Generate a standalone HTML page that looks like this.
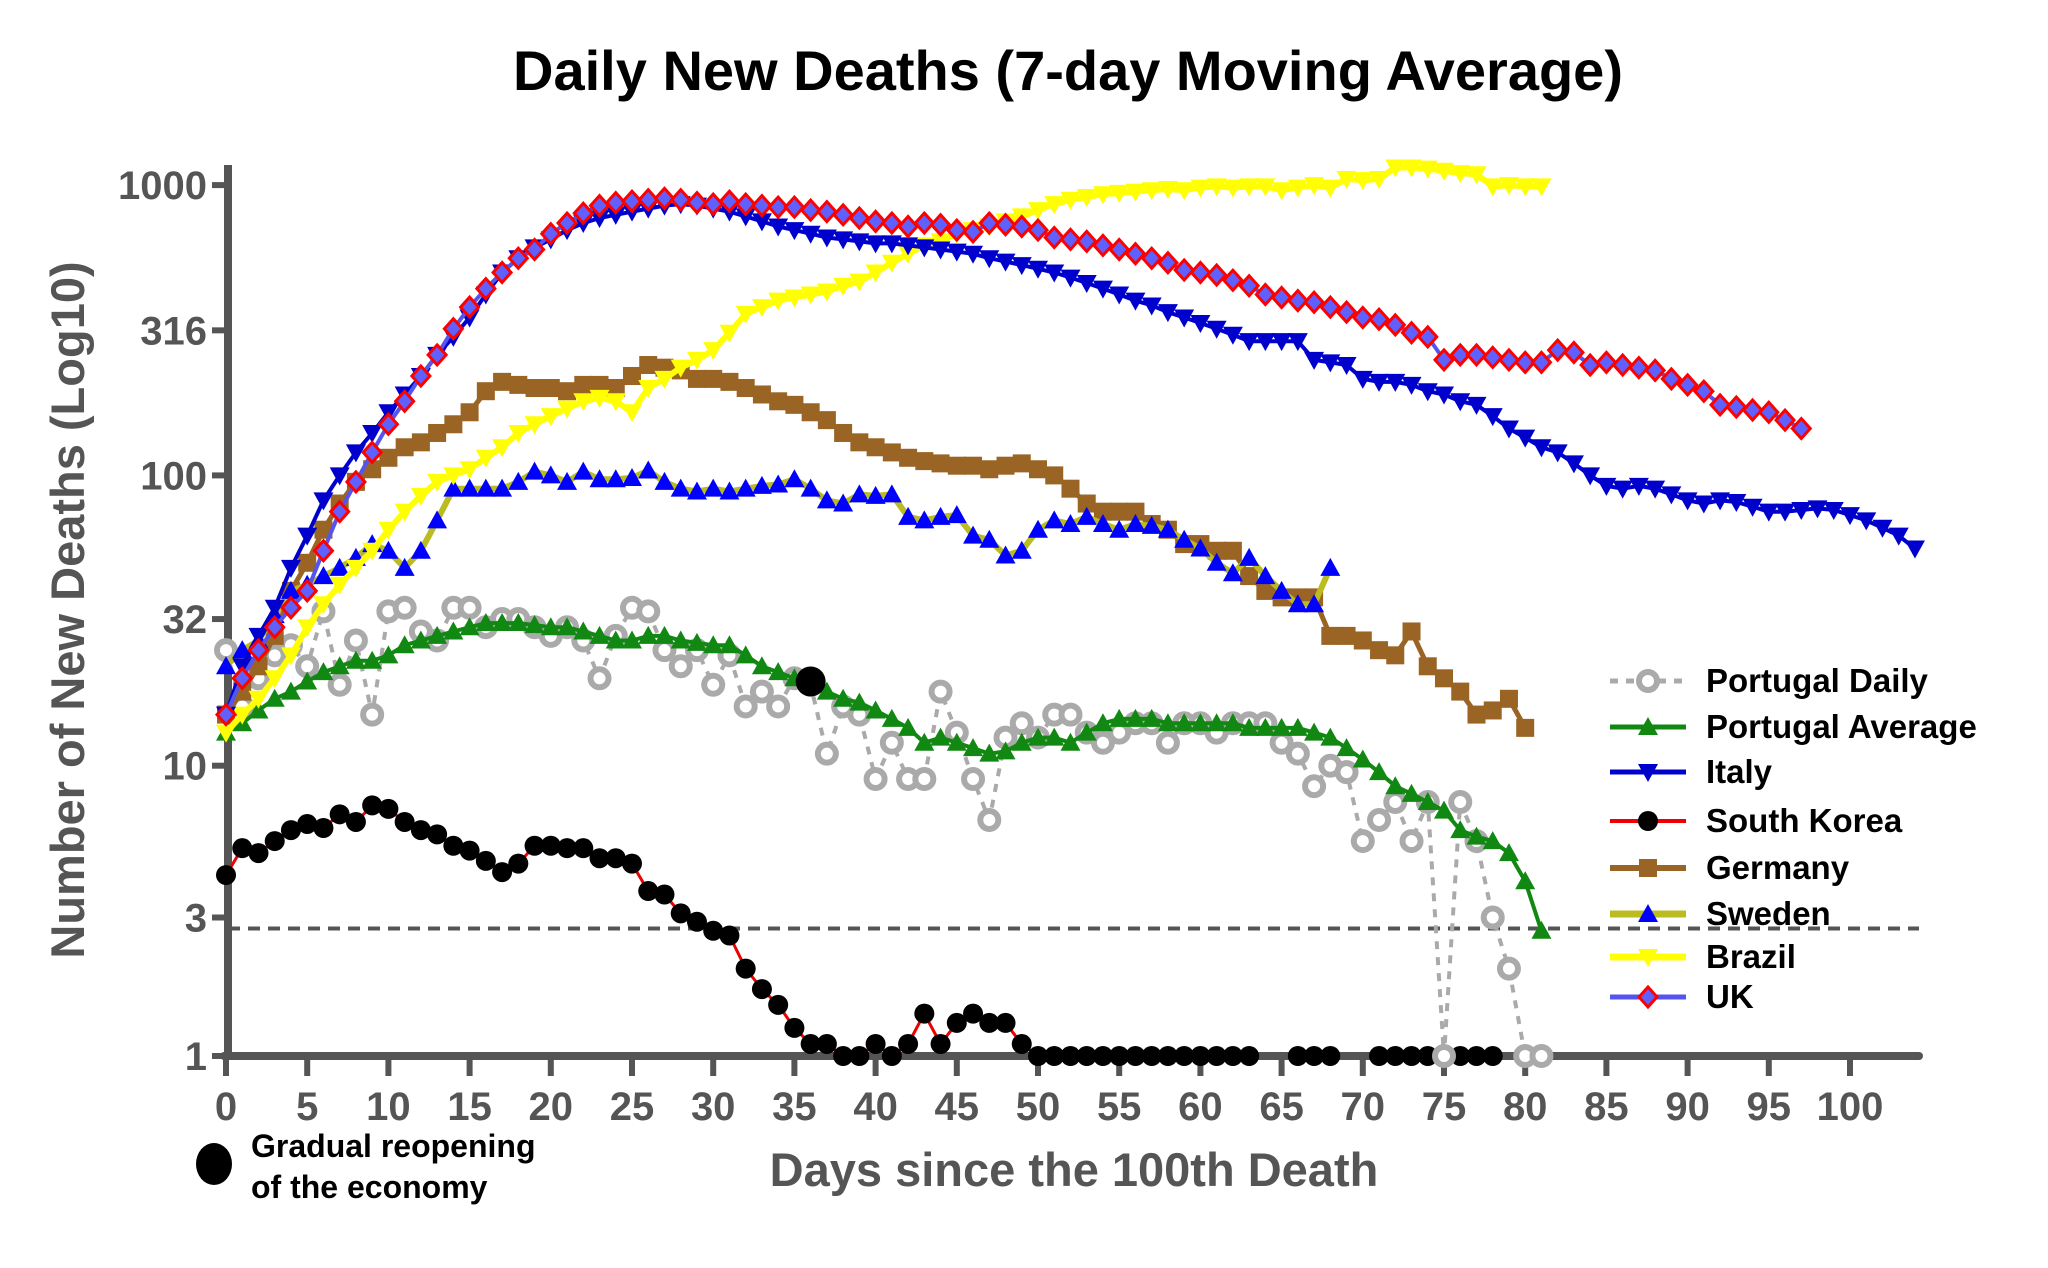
<!DOCTYPE html>
<html><head><meta charset="utf-8"><style>
html,body{margin:0;padding:0;background:#fff;}
svg{display:block;font-family:"Liberation Sans",Arial,sans-serif;}
</style></head><body>
<svg id="chart" width="2048" height="1268" viewBox="0 0 2048 1268" xmlns="http://www.w3.org/2000/svg">
<text x="1068" y="90" text-anchor="middle" font-size="56" font-weight="bold" fill="#000">Daily New Deaths (7-day Moving Average)</text>
<text transform="translate(84,610) rotate(-90)" text-anchor="middle" font-size="47" font-weight="bold" fill="#555">Number of New Deaths (Log10)</text>
<text x="1074" y="1186" text-anchor="middle" font-size="47" font-weight="bold" fill="#555">Days since the 100th Death</text>
<g id="axes"></g>
<g id="series"></g>
<g id="legend"></g>
<g>
<ellipse cx="214" cy="1164" rx="18" ry="21" fill="#000"/>
<text x="251" y="1157" font-size="32" font-weight="bold" fill="#000">Gradual reopening</text>
<text x="251" y="1198" font-size="32" font-weight="bold" fill="#000">of the economy</text>
</g>
</svg>
<script>
const yTicks = [1, 3, 10, 32, 100, 316, 1000];
const yTickLabels = ["1", "3", "10", "32", "100", "316", "1000"];
const xTicks = [0,5,10,15,20,25,30,35,40,45,50,55,60,65,70,75,80,85,90,95,100];
const thresholdValue = 2.75;
const reopeningDay = 36;
const reopeningValue = 19.5;
const italy = [15,22,28,35,48,62,82,100,120,140,165,190,220,260,300,350,420,500,560,610,650,700,740,770,790,810,830,850,860,850,830,810,780,750,720,700,680,660,650,640,630,630,620,610,600,590,580,560,545,530,515,500,480,460,440,420,400,385,365,350,335,320,305,290,290,290,290,250,245,240,215,210,210,205,195,190,180,175,160,145,135,125,120,110,100,92,90,92,90,86,82,80,82,81,78,75,75,76,77,76,73,70,66,62,56];
const uk = [15,20,25,30,35,40,55,75,95,120,150,180,220,260,320,380,440,500,560,600,680,740,800,850,870,880,890,900,890,870,860,880,860,850,840,840,820,810,790,770,750,740,720,740,730,700,690,740,730,720,700,660,650,640,620,600,580,560,540,510,500,490,470,450,420,410,400,395,380,365,350,345,330,310,300,250,260,260,255,250,245,245,270,265,240,245,240,235,230,215,205,195,175,172,168,165,155,145];
const brazil = [13,15,17,20,24,30,36,42,48,55,65,75,85,95,100,105,115,125,140,150,160,170,180,185,180,165,200,215,235,250,270,310,360,380,400,410,420,430,450,465,500,540,580,620,640,680,700,720,750,780,820,860,890,910,930,940,950,960,970,960,980,990,980,990,990,960,980,1000,980,1050,1040,1050,1150,1150,1140,1120,1100,1090,990,1000,990,990];
const germany = [15,18,22,28,40,50,65,80,95,105,115,125,130,140,150,165,195,210,205,200,200,195,205,205,200,220,240,235,230,215,215,210,200,190,180,175,165,155,140,130,125,120,115,112,110,108,108,105,108,110,105,100,90,80,75,75,75,68,65,58,58,55,55,45,40,38,38,38,28,28,27,25,24,29,22,20,18,15,15.5,17,13.5];
const sweden = [22,25,27,33,40,42,45,48,52,58,55,48,55,70,90,90,90,90,95,103,100,95,103,97,97,98,104,95,90,88,90,88,90,92,93,97,90,82,80,86,85,86,72,70,72,73,62,60,53,55,65,70,68,72,68,65,68,67,65,60,56,50,46,52,45,40,36,36,48];
const ptAvg = [13,14,15.5,17,18,19.5,21,22,23,23,24,26,27,28,29,30,31,31,31,30.5,30,30,29,28,27,27,28,28,27,26.5,26,26,24,22,21,20,19,18,17,16.5,15.5,14.5,13.5,12,12.5,12,11.5,11,11.2,12,12.5,12.5,12,13,14,14.5,14.5,14.5,14,14,14,14,14,13.5,13.5,13.5,13.5,13,12.5,11.5,10.5,9.5,8.5,8,7.5,7,6,5.7,5.5,5,4,2.7];
const ptDaily = [25,16,20,24,26,22,34,19,27,15,34,35,29,27,35,35,30,32,32,30,28,30,27,20,28,35,34,25,22,25,19,24,16,18,16,20,19,11,16,15,9,12,9,9,18,13,9,6.5,12.5,14,12.5,15,15,13,12,13,14,14,12,14,14,13,14,14,14,12,11,8.5,10,9.5,5.5,6.5,7.5,5.5,7.5,1,7.5,5.5,3,2,1,1];
const korea = [4.2,5.2,5,5.5,6,6.3,6.1,6.8,6.4,7.3,7.1,6.4,6,5.8,5.3,5.1,4.7,4.3,4.6,5.3,5.3,5.2,5.2,4.8,4.8,4.6,3.7,3.6,3.1,2.9,2.7,2.6,2,1.7,1.5,1.25,1.1,1.1,1,1,1.1,1,1.1,1.4,1.1,1.3,1.4,1.3,1.3,1.1,1,1,1,1,1,1,1,1,1,1,1,1,1,1,null,null,1,1,1,null,null,1,1,1,1,1,1,1,1];

const NS = "http://www.w3.org/2000/svg";
const X0 = 226, PXDAY = 16.24, Y1 = 1056, PXDEC = 290.3;
function xs(d){ return X0 + d * PXDAY; }
function ys(v){ return Y1 - Math.log10(v) * PXDEC; }
function mk(tag, attrs, parent){
  const e = document.createElementNS(NS, tag);
  for (const k in attrs) e.setAttribute(k, attrs[k]);
  parent.appendChild(e);
  return e;
}
const axes = document.getElementById('axes');
const series = document.getElementById('series');
const legend = document.getElementById('legend');
const AX = "#555";

let yl = mk('line', {x1:228, y1:ys(1), x2:228, y2:165, stroke:AX, 'stroke-width':8}, axes);


let xl = mk('line', {x1:224, y1:ys(1), x2:1919, y2:ys(1), stroke:AX, 'stroke-width':8, 'stroke-linecap':'round'}, axes);


yTicks.forEach((v, i) => {
  const t = mk('line', {x1:212, y1:ys(v), x2:228, y2:ys(v), stroke:AX, 'stroke-width':6}, axes);
  
  
  const l = mk('text', {x:207, y:ys(v)+14, 'text-anchor':'end', 'font-size':40, 'font-weight':'bold', fill:AX}, axes);
  l.textContent = yTickLabels[i];
  
  
});
xTicks.forEach(d => {
  const t = mk('line', {x1:xs(d), y1:ys(1), x2:xs(d), y2:ys(1)+20, stroke:AX, 'stroke-width':6}, axes);
  
  
  const l = mk('text', {x:xs(d), y:1120, 'text-anchor':'middle', 'font-size':40, 'font-weight':'bold', fill:AX}, axes);
  l.textContent = String(d);
  
  
});
const th = mk('line', {x1:228, y1:ys(thresholdValue), x2:1919, y2:ys(thresholdValue), stroke:'#555', 'stroke-width':4, 'stroke-dasharray':'12,8'}, axes);



function marker(shape, cx, cy, st, parent){
  const s = 10;
  let e;
  if (shape === 'down') e = mk('polygon', {points:`${cx-s},${cy-s*0.8} ${cx+s},${cy-s*0.8} ${cx},${cy+s}`}, parent);
  else if (shape === 'up') e = mk('polygon', {points:`${cx-s},${cy+s*0.8} ${cx+s},${cy+s*0.8} ${cx},${cy-s}`}, parent);
  else if (shape === 'square') e = mk('rect', {x:cx-9, y:cy-9, width:18, height:18}, parent);
  else if (shape === 'diamond') e = mk('polygon', {points:`${cx},${cy-10} ${cx+9},${cy} ${cx},${cy+10} ${cx-9},${cy}`}, parent);
  else e = mk('circle', {cx:cx, cy:cy, r:st.r || 9}, parent);
  e.setAttribute('fill', st.mfill);
  if (st.mstroke) { e.setAttribute('stroke', st.mstroke); e.setAttribute('stroke-width', st.msw || 3); }
  return e;
}
const styles = {
  korea:{line:'#e00', lw:3, shape:'circle', mfill:'#000', r:10, name:'South Korea'},
  ptDaily:{line:'#aaa', lw:4, dash:'8,8', shape:'circle', mfill:'#fff', mstroke:'#aaa', msw:6, r:9, name:'Portugal Daily'},
  ptAvg:{line:'#118811', lw:4, shape:'up', mfill:'#118811', name:'Portugal Average'},
  germany:{line:'#9a6424', lw:5, shape:'square', mfill:'#9a6424', name:'Germany'},
  sweden:{line:'#bbbb22', lw:6, shape:'up', mfill:'#0000ff', name:'Sweden'},
  brazil:{line:'#ffff00', lw:6, shape:'down', mfill:'#ffff00', name:'Brazil'},
  italy:{line:'#0000cc', lw:4, shape:'down', mfill:'#0000cc', name:'Italy'},
  uk:{line:'#5555ee', lw:4, shape:'diamond', mfill:'#6060ff', mstroke:'#ff0000', msw:3, name:'UK'}
};
const dataMap = {korea, ptDaily, ptAvg, germany, sweden, brazil, italy, uk};
['korea','ptDaily','ptAvg','germany','sweden','brazil','italy','uk'].forEach(key => {
  const arr = dataMap[key], st = styles[key];
  const g = mk('g', {}, series);
  
  
  let segs = [], cur = [];
  arr.forEach((v, i) => {
    if (v == null) { if (cur.length) segs.push(cur); cur = []; }
    else cur.push(xs(i).toFixed(1) + ',' + ys(v).toFixed(1));
  });
  if (cur.length) segs.push(cur);
  segs.forEach(s => {
    const p = mk('polyline', {points:s.join(' '), fill:'none', stroke:st.line, 'stroke-width':st.lw, 'stroke-linejoin':'round'}, g);
    if (st.dash) p.setAttribute('stroke-dasharray', st.dash);
    
    
  });
  arr.forEach((v, i) => {
    if (v == null) return;
    const m = marker(st.shape, xs(i), ys(v), st, g);
    
    
  });
});
const rd = mk('circle', {cx:xs(reopeningDay), cy:ys(reopeningValue), r:15, fill:'#000'}, series);



const legendOrder = ['ptDaily','ptAvg','italy','korea','germany','sweden','brazil','uk'];
const legendY = [681,727,772,821,868,914,957,997];
legendOrder.forEach((key, i) => {
  const st = styles[key], y = legendY[i];
  const g = mk('g', {}, legend);
  
  
  const l = mk('line', {x1:1610, y1:y, x2:1686, y2:y, stroke:st.line, 'stroke-width':st.lw + 1}, g);
  if (st.dash) l.setAttribute('stroke-dasharray', st.dash);
  marker(st.shape, 1648, y, st, g);
  const t = mk('text', {x:1706, y:y+11, 'font-size':33, 'font-weight':'bold', fill:'#000'}, g);
  t.textContent = st.name;
});
</script>
</body></html>
